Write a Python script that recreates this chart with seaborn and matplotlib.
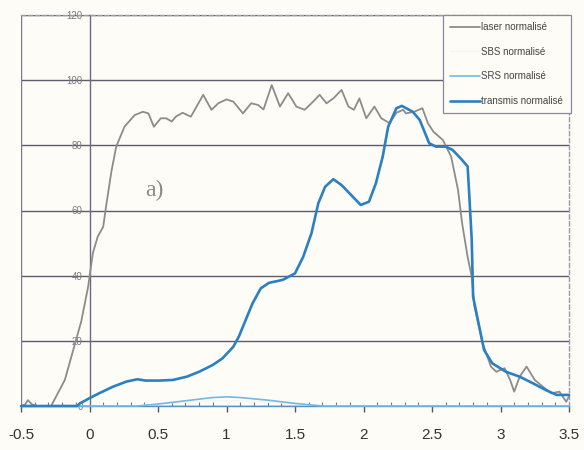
import matplotlib
matplotlib.use("Agg")
import matplotlib.pyplot as plt
import seaborn as sns
import pandas as pd
from matplotlib.ticker import MultipleLocator, FixedLocator

# ---- data ----
laser_x = [-0.5, -0.47, -0.45, -0.42, -0.38, -0.28, -0.18, -0.12, -0.06, -0.01,
           0.025, 0.06, 0.10, 0.12, 0.16, 0.195, 0.255, 0.33, 0.39, 0.43,
           0.47, 0.52, 0.56, 0.60, 0.63, 0.68, 0.74, 0.83, 0.89, 0.94,
           1.0, 1.05, 1.12, 1.18, 1.23, 1.27, 1.33, 1.39, 1.45, 1.51,
           1.57, 1.62, 1.68, 1.73, 1.78, 1.84, 1.89, 1.93, 1.97, 2.02,
           2.08, 2.13, 2.19, 2.24, 2.29, 2.31, 2.37, 2.43, 2.47, 2.51,
           2.58, 2.64, 2.69, 2.72, 2.76, 2.79, 2.81, 2.87, 2.93, 2.97,
           3.03, 3.07, 3.10, 3.14, 3.19, 3.25, 3.31, 3.37, 3.43, 3.48, 3.5]
laser_y = [0, 0.5, 1.8, 0.5, 0, 0, 8, 17, 26, 36.6,
           47, 52, 55, 61, 72, 79.6, 85.7, 89.3, 90.3, 89.8,
           85.7, 88.3, 88.3, 87.3, 88.8, 90, 88.8, 95.5, 90.9, 92.9,
           94.1, 93.4, 89.8, 92.9, 92.4, 91, 98.5, 91.9, 96, 91.9,
           90.9, 92.9, 95.5, 92.9, 94.4, 97, 91.9, 90.9, 94.4, 88.3,
           91.9, 88.3, 86.8, 90, 90.9, 89.8, 90.3, 91.4, 86.8, 84.2,
           81.6, 76.5, 66.3, 56, 45.8, 39.7, 30.5, 19.2, 12.1, 10.5,
           11.6, 8, 4.4, 9, 12.1, 8, 5.9, 3.9, 4.4, 1.3, 3]

sbs_x = [-0.5, 0.35, 0.6, 0.9, 1.1, 1.4, 1.7, 3.5]
sbs_y = [0, 0, 1.0, 1.6, 1.6, 1.0, 0, 0]

srs_x = [-0.5, 0.35, 0.5, 0.7, 0.9, 1.0, 1.1, 1.3, 1.5, 1.7, 3.5]
srs_y = [0, 0, 0.6, 1.6, 2.6, 2.8, 2.6, 1.8, 0.8, 0, 0]

trans_x = [-0.5, -0.09, -0.07, 0, 0.07, 0.17, 0.27, 0.35, 0.41, 0.51,
           0.61, 0.71, 0.80, 0.90, 0.97, 1.05, 1.09, 1.14, 1.19, 1.25,
           1.31, 1.41, 1.50, 1.56, 1.62, 1.67, 1.72, 1.78, 1.84, 1.92,
           1.98, 2.04, 2.09, 2.14, 2.18, 2.24, 2.28, 2.36, 2.41, 2.48,
           2.53, 2.60, 2.65, 2.72, 2.76, 2.77, 2.79, 2.80, 2.83, 2.88,
           2.94, 3.04, 3.14, 3.24, 3.33, 3.41, 3.5]
trans_y = [0, 0, 0.8, 2.4, 3.9, 5.9, 7.5, 8.2, 7.8, 7.8,
           8, 9, 10.5, 12.6, 14.6, 18.2, 21.3, 26.4, 31.5, 36.1,
           37.8, 38.7, 40.7, 45.8, 53, 62.2, 67.3, 69.6, 67.8, 64.3,
           61.7, 62.7, 68.3, 76.5, 85.7, 91.4, 92.1, 90.3, 87.8, 80.6,
           79.6, 79.6, 78.6, 75.5, 73.5, 66.3, 51, 33.5, 27.4, 17.2,
           13.1, 10.5, 9, 6.9, 4.9, 3.4, 3.4]

x_ticks = [-0.5, 0, 0.5, 1, 1.5, 2, 2.5, 3, 3.5]
x_labels = ["-0.5", "0", "0.5", "1", "1.5", "2", "2.5", "3", "3.5"]
y_ticks = [0, 20, 40, 60, 80, 100, 120]
y_labels = ["0", "20", "40", "60", "80", "100", "120"]

names = ["laser normalisé", "SBS normalisé", "SRS normalisé", "transmis normalisé"]

# ---- style ----
sns.set_theme(style="white")
plt.rcParams["font.family"] = ["Liberation Sans Narrow", "Liberation Sans", "DejaVu Sans"]

bg = "#fdfcf6"
fig = plt.figure(figsize=(5.84, 4.5), dpi=100, facecolor=bg)
ax = fig.add_axes([21 / 584, 44 / 450, 548 / 584, 391 / 450])
ax.set_facecolor(bg)

series = [
    (laser_x, laser_y, names[0], "#8c8c8c", 1.3, 3),
    (sbs_x, sbs_y, names[1], "#f6f5ef", 1.0, 2),
    (srs_x, srs_y, names[2], "#74b9e0", 1.2, 4),
    (trans_x, trans_y, names[3], "#2b80c2", 1.9, 5),
]
for xs, ys, name, col, lw, z in series:
    df = pd.DataFrame({"t": xs, "v": ys})
    sns.lineplot(data=df, x="t", y="v", ax=ax, color=col, linewidth=lw,
                 sort=False, label=name, zorder=z, clip_on=False, estimator=None)

ax.set_xlim(-0.5, 3.5)
ax.set_ylim(0, 120)
ax.set_xlabel("")
ax.set_ylabel("")

# grid lines
ax.yaxis.set_major_locator(FixedLocator(y_ticks))
ax.set_yticklabels(y_labels)
ax.grid(axis="y", color="#5c5c6e", linewidth=1.0, zorder=1)
ax.grid(axis="x", visible=False)
ax.set_axisbelow(True)

# spines
ax.spines["left"].set_position(("data", 0))
ax.spines["left"].set_color("#6a6a7a")
ax.spines["left"].set_linewidth(1.0)
ax.spines["bottom"].set_color("#5a8fc0")
ax.spines["bottom"].set_linewidth(1.0)
for s in ["top", "right"]:
    ax.spines[s].set_visible(True)
    ax.spines[s].set_linestyle((0, (3, 2)))
    ax.spines[s].set_color("#9a9aa8")
    ax.spines[s].set_linewidth(1.0)
ax.axvline(-0.5, color="#7a7a8a", linewidth=1.0, zorder=1)

ax.set_xticks(x_ticks)
ax.set_xticklabels(x_labels)
ax.xaxis.set_minor_locator(MultipleLocator(0.1))
ax.tick_params(axis="x", which="major", direction="out", length=4, width=1,
               color="#556", pad=12, labelsize=11, labelcolor="#333333", bottom=True)
ax.tick_params(axis="x", which="minor", direction="in", length=3, width=0.8,
               color="#778", bottom=True)
ax.tick_params(axis="y", which="major", direction="inout", length=4, width=0.8,
               color="#667", pad=3, labelsize=7, labelcolor="#7a7a7a", left=True)

ax.text(0.47, 66, "a)", fontsize=17, color="#8a8a8a",
        family=["Liberation Serif", "DejaVu Serif"], ha="center", va="center")

leg = ax.legend(loc="upper right", bbox_to_anchor=(1.003, 1.0), borderaxespad=0,
                fontsize=7, frameon=True, handlelength=3.0, handletextpad=0.2,
                labelspacing=1.5, borderpad=0.75, fancybox=False)
leg.get_frame().set_edgecolor("#8a8a96")
leg.get_frame().set_facecolor(bg)
leg.get_frame().set_linewidth(0.9)
leg.get_frame().set_alpha(1)
for t in leg.get_texts():
    t.set_color("#444444")
leg.set_zorder(10)

fig.savefig("out.png", dpi=100, facecolor=bg)
